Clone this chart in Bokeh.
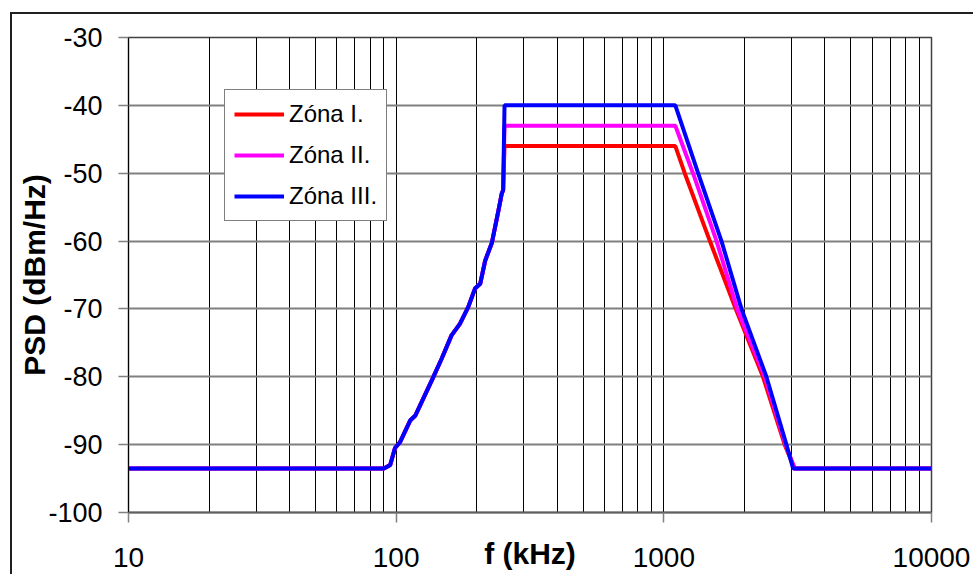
from bokeh.plotting import figure
from bokeh.models import Range1d, FixedTicker, NumeralTickFormatter, Legend, LegendItem
from bokeh.embed import file_html
from bokeh.resources import INLINE

# ---- data ----
x_ticks = [10, 100, 1000, 10000]
x_minor = [20, 30, 40, 50, 60, 70, 80, 90,
           200, 300, 400, 500, 600, 700, 800, 900,
           2000, 3000, 4000, 5000, 6000, 7000, 8000, 9000]
y_ticks = [-100, -90, -80, -70, -60, -50, -40, -30]

# common rising edge (kHz, dBm/Hz)
freq_rise = [10, 90, 95, 99, 103.5, 113, 118, 136, 148, 161, 173, 186, 197, 206, 215, 228, 241, 248, 251]
psd_rise = [-93.5, -93.5, -93.0, -90.5, -89.6, -86.4, -85.7, -80.5, -77.3, -73.9, -72.2, -69.7,
            -67.0, -66.3, -62.9, -60.2, -55.5, -53.0, -52.5]

# Zóna I.
freq_z1 = [254, 1104, 1197, 1486, 1857, 2347, 2828, 3080, 10000]
psd_z1 = [-46, -46, -50, -60, -70, -80, -90, -93.5, -93.5]
# Zóna II.
freq_z2 = [254, 1104, 1285, 1574, 1880, 2383, 2850, 3080, 10000]
psd_z2 = [-43, -43, -50, -60, -70, -80, -90, -93.5, -93.5]
# Zóna III.
freq_z3 = [254, 1104, 1343, 1642, 1950, 2416, 2870, 3040, 10000]
psd_z3 = [-40, -40, -50, -60, -70, -80, -90, -93.5, -93.5]

names = ["Zóna I.", "Zóna II.", "Zóna III."]
colors = ["#FF0000", "#FF00FF", "#0000FF"]

FONT = "Liberation Sans"

p = figure(x_axis_type="log", x_range=Range1d(10, 10000), y_range=Range1d(-100, -30),
           frame_width=803, frame_height=475,
           min_border_left=116, min_border_top=23, min_border_right=42, min_border_bottom=62,
           output_backend="svg", toolbar_location=None)
p.styles = {"margin-left": "10px", "margin-top": "12px",
            "border-left": "2px solid #202020", "border-top": "2px solid #202020"}
p.background_fill_color = "white"
p.border_fill_color = "white"
p.outline_line_color = "#404040"
p.outline_line_width = 1.5

# axes
p.xaxis.ticker = FixedTicker(ticks=x_ticks, minor_ticks=x_minor)
p.xaxis.formatter = NumeralTickFormatter(format="0")
p.yaxis.ticker = FixedTicker(ticks=y_ticks)
p.yaxis.major_label_overrides = {v: str(v) for v in y_ticks}

for ax in (p.xaxis[0], p.yaxis[0]):
    ax.major_tick_out = 10
    ax.major_tick_in = 0
    ax.minor_tick_out = 0
    ax.minor_tick_in = 0
    ax.major_tick_line_color = "#808080"
    ax.major_tick_line_width = 1.5
    ax.major_label_text_font = FONT
    ax.major_label_text_color = "black"
    ax.axis_label_text_font = FONT
    ax.axis_label_text_font_style = "bold"
    ax.axis_label_text_color = "black"

p.xaxis.axis_line_color = "#606060"
p.xaxis.axis_line_width = 2
p.yaxis.axis_line_color = "black"
p.yaxis.axis_line_width = 1

p.xaxis.axis_label = "f (kHz)"
p.xaxis.major_label_text_font_size = "28px"
p.xaxis.axis_label_text_font_size = "30px"
p.xaxis.major_label_standoff = 25
p.xaxis.axis_label_standoff = -33

p.yaxis.axis_label = "PSD (dBm/Hz)"
p.yaxis.major_label_text_font_size = "27px"
p.yaxis.axis_label_text_font_size = "30px"
p.yaxis.major_label_standoff = 16
p.yaxis.axis_label_standoff = -6

# grids
p.xgrid.grid_line_color = "black"
p.xgrid.grid_line_width = 1
p.xgrid.minor_grid_line_color = "black"
p.xgrid.minor_grid_line_width = 1
p.ygrid.grid_line_color = "#808080"
p.ygrid.grid_line_width = 2

# lines
series = [(freq_z1, psd_z1), (freq_z2, psd_z2), (freq_z3, psd_z3)]
items = []
for (fx, py), name, col in zip(series, names, colors):
    r = p.line(freq_rise + fx, psd_rise + py, line_color=col, line_width=4)
    items.append(LegendItem(label=name, renderers=[r]))

legend = Legend(items=items, location=(96, 291))
legend.label_text_font = FONT
legend.label_text_font_size = "24px"
legend.label_text_color = "black"
legend.glyph_width = 50
legend.glyph_height = 20
legend.label_height = 30
legend.label_standoff = 5
legend.spacing = 11
legend.padding = 9
legend.margin = 0
legend.border_line_color = "black"
legend.border_line_width = 1
legend.background_fill_color = "white"
legend.background_fill_alpha = 1
p.add_layout(legend)

open("out.html", "w").write(file_html(p, INLINE))
